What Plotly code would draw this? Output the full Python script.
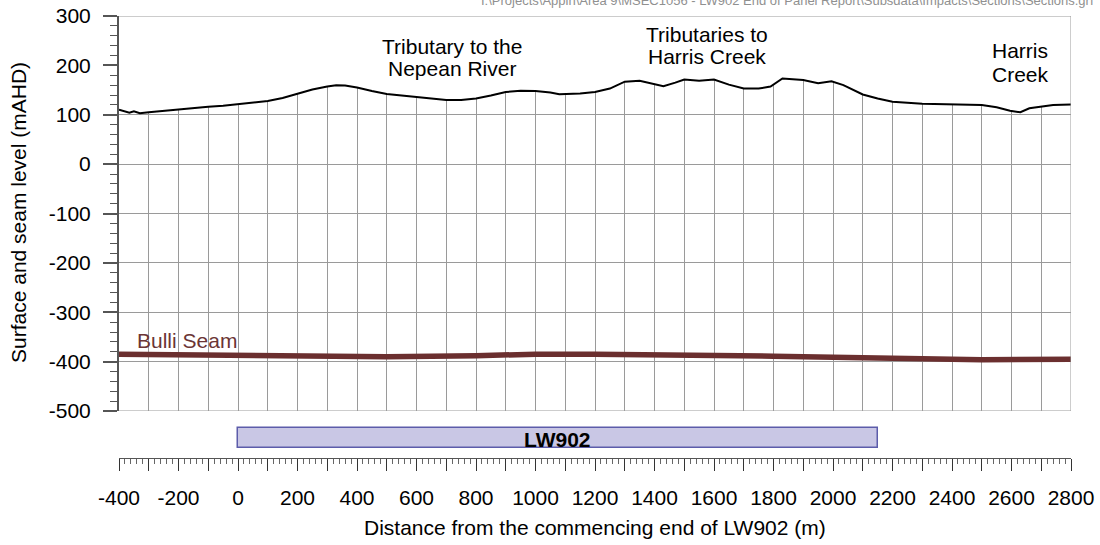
import plotly.graph_objects as go

# ---------------- data ----------------
terrain_x = [-400, -380, -365, -350, -330, -300, -250, -200, -150, -100, -50, 0, 50, 100,
             150, 200, 250, 300, 330, 360, 400, 450, 500, 550, 600, 650, 700, 750, 800,
             850, 900, 950, 1000, 1050, 1080, 1150, 1200, 1250, 1300, 1350, 1400, 1430,
             1470, 1500, 1550, 1600, 1650, 1700, 1750, 1790, 1830, 1900, 1950, 1995, 2035,
             2100, 2150, 2200, 2300, 2400, 2500, 2550, 2595, 2630, 2660, 2740, 2800]
terrain_y = [110, 106, 104, 107, 103, 105, 108, 111, 113, 116, 118, 121, 124, 128,
             134, 143, 151, 157, 159.5, 159, 155, 148, 142, 139, 136, 132, 130, 130, 133,
             139, 146, 148.5, 148, 145, 141.5, 143, 146, 153, 167, 169, 163, 158,
             165, 171.5, 169, 171.5, 161, 153, 153, 157, 173.5, 170.5, 164, 168, 160,
             141, 133, 126.5, 122.5, 121, 119.5, 115, 108, 105, 113, 119.5, 121]

seam_x = [-400, 0, 200, 500, 800, 1000, 1200, 1500, 1800, 2000, 2200, 2500, 2800]
seam_y = [-385, -387, -389, -390, -388, -385, -385, -386, -389, -391, -394, -396, -395]

panel_name = "LW902"
panel_start = 0
panel_end = 2150

x_tick_vals = list(range(-400, 2801, 100))
x_tick_text = [str(v) if v % 200 == 0 else "" for v in x_tick_vals]
y_tick_vals = list(range(-500, 301, 100))
y_tick_text = [str(v) for v in y_tick_vals]

feature_lines = ["Tributary to the", "Nepean River",
                 "Tributaries to", "Harris Creek",
                 "Harris", "Creek"]
seam_label = "Bulli Seam"

file_path = r"I:\Projects\Appin\Area 9\MSEC1056 - LW902 End of Panel Report\Subsdata\Impacts\Sections\Sections.grf"
x_title = "Distance from the commencing end of LW902 (m)"
y_title = "Surface and seam level (mAHD)"

# ---------------- layout constants ----------------
W, H = 1100, 545
FONT = "Arial, Liberation Sans, sans-serif"
FS = 21
GRID = "#9a9a9a"
AXIS = "#555555"
SEAM = "#6b2f2f"
XMIN, XMAX = -400, 2800
YMIN, YMAX = -500, 300

# label placement (data coords of x, pixel rows of y)
feature_pos = [(719, 46), (719, 69), (1577, 34), (1577, 57), (2629, 50), (2629, 74)]


def px_x(p):
    return p / W


def px_y(p):
    return 1 - p / H


xdom = [px_x(119), px_x(1071)]

fig = go.Figure()

# white mask above the ground surface so the section grid stops at the surface
fig.add_trace(go.Scatter(
    x=terrain_x + [XMAX, XMIN], y=terrain_y + [YMAX, YMAX],
    fill="toself", fillcolor="white", mode="none", hoverinfo="skip",
    showlegend=False, xaxis="x", yaxis="y"))

# ground surface
fig.add_trace(go.Scatter(
    x=terrain_x, y=terrain_y, mode="lines",
    line=dict(color="black", width=2), showlegend=False, xaxis="x", yaxis="y"))

# seam
fig.add_trace(go.Scatter(
    x=seam_x, y=seam_y, mode="lines",
    line=dict(color=SEAM, width=5.5), showlegend=False, xaxis="x", yaxis="y"))

# panel bar
fig.add_trace(go.Bar(
    x=[panel_end - panel_start], base=[panel_start], y=[0.54], width=[0.54],
    orientation="h", marker=dict(color="#c9c7e5", line=dict(color="#5c5caa", width=1.5)),
    showlegend=False, xaxis="x2", yaxis="y2", hoverinfo="skip"))

fig.update_layout(
    width=W, height=H,
    margin=dict(l=0, r=0, t=0, b=0),
    template="none",
    paper_bgcolor="white", plot_bgcolor="white",
    font=dict(family=FONT, size=FS, color="black"),
    xaxis=dict(domain=xdom, range=[XMIN, XMAX], anchor="y",
               showgrid=True, gridcolor=GRID, gridwidth=1, tickmode="linear",
               tick0=-400, dtick=100, showticklabels=False, ticks="",
               zeroline=False, showline=False, automargin=False, fixedrange=True),
    yaxis=dict(domain=[px_y(411), px_y(16)], range=[YMIN, YMAX], anchor="x",
               tickmode="array", tickvals=y_tick_vals, ticktext=y_tick_text,
               showgrid=True, gridcolor=GRID, gridwidth=1, zeroline=False,
               showline=True, linecolor=AXIS, linewidth=2,
               ticks="outside", ticklen=14, tickwidth=1.5, tickcolor=AXIS,
               minor=dict(tickmode="linear", tick0=0, dtick=20, ticks="outside",
                          ticklen=7, tickwidth=1, tickcolor=AXIS, showgrid=False),
               tickfont=dict(family=FONT, size=FS, color="black"),
               ticklabelstandoff=8, automargin=False),
    xaxis2=dict(domain=xdom, range=[XMIN, XMAX], anchor="y2",
                tickmode="array", tickvals=x_tick_vals, ticktext=x_tick_text,
                showgrid=False, zeroline=False, showline=True, linecolor=AXIS, linewidth=1,
                ticks="outside", ticklen=12, tickwidth=1, tickcolor="#333333",
                minor=dict(tickmode="linear", tick0=-400, dtick=20, ticks="outside",
                           ticklen=5, tickwidth=1, tickcolor="#666666", showgrid=False),
                tickfont=dict(family=FONT, size=FS, color="black"),
                ticklabelstandoff=9, automargin=False),
    yaxis2=dict(domain=[px_y(458), px_y(421)], range=[0, 1], anchor="x2",
                showgrid=False, zeroline=False, showticklabels=False, ticks="",
                showline=False, automargin=False),
    bargap=0,
)

# plot frame (top, right, bottom)
for x0, y0, x1, y1 in [(XMIN, YMAX, XMAX, YMAX), (XMAX, YMIN, XMAX, YMAX), (XMIN, YMIN, XMAX, YMIN)]:
    fig.add_shape(type="line", xref="x", yref="y", x0=x0, y0=y0, x1=x1, y1=y1,
                  line=dict(color=GRID, width=1), layer="above")

annotations = []
for t, (xv, py) in zip(feature_lines, feature_pos):
    annotations.append(dict(text=t, x=xv, xref="x", y=px_y(py), yref="paper", showarrow=False,
                            font=dict(family=FONT, size=FS, color="black"),
                            xanchor="center", yanchor="middle"))
annotations.append(dict(text=seam_label, x=-347, xref="x", y=px_y(340), yref="paper",
                        showarrow=False, font=dict(family=FONT, size=FS, color="#6b3535"),
                        xanchor="left", yanchor="middle"))
annotations.append(dict(text="<b>" + panel_name + "</b>", x=(panel_start + panel_end) / 2,
                        xref="x2", y=px_y(439), yref="paper", showarrow=False,
                        font=dict(family=FONT, size=FS, color="black"),
                        xanchor="center", yanchor="middle"))
annotations.append(dict(text=file_path, x=px_x(1096), y=px_y(0), xref="paper", yref="paper",
                        showarrow=False, font=dict(family=FONT, size=13, color="#909090"),
                        xanchor="right", yanchor="middle"))
annotations.append(dict(text=x_title, x=(xdom[0] + xdom[1]) / 2, y=px_y(527), xref="paper",
                        yref="paper", showarrow=False, font=dict(family=FONT, size=FS, color="black"),
                        xanchor="center", yanchor="middle"))
annotations.append(dict(text=y_title, x=px_x(19), y=px_y(213), xref="paper", yref="paper",
                        showarrow=False, textangle=-90,
                        font=dict(family=FONT, size=FS, color="black"),
                        xanchor="center", yanchor="middle"))
fig.update_layout(annotations=annotations)

fig.write_html("out.html")
